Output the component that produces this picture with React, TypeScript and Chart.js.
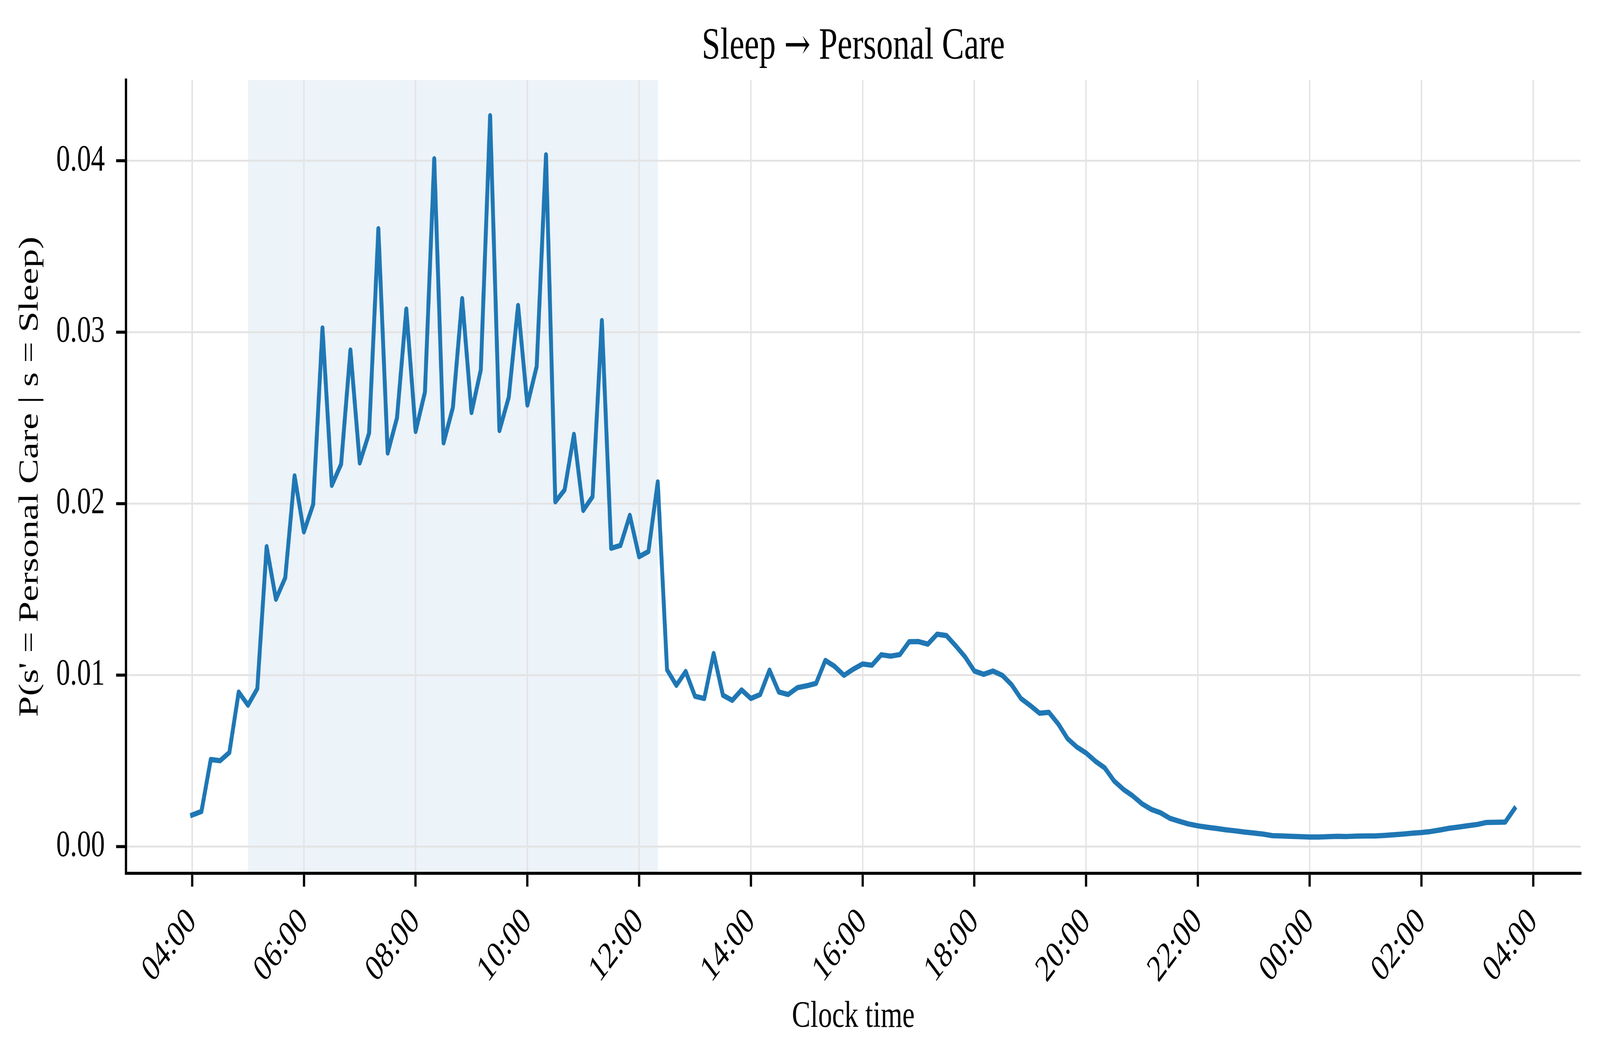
import React, { useEffect, useRef, useState } from 'react';
import { Chart, registerables } from 'chart.js';

Chart.register(...registerables);

const W = 5524;
const H = 2719;

// Minutes since 04:00, one sample every 10 minutes (04:00 .. 03:40)
const START_MIN = 0;
const STEP_MIN = 10;

const values: number[] = [
  0.00183, 0.00204, 0.00507, 0.00500, 0.00548, 0.00900, 0.00824, 0.00920, 0.01748, 0.01442,
  0.01567, 0.02161, 0.01835, 0.01995, 0.03024, 0.02106, 0.02230, 0.02895, 0.02237, 0.02410,
  0.03603, 0.02295, 0.02500, 0.03134, 0.02421, 0.02650, 0.04011, 0.02354, 0.02560, 0.03195,
  0.02531, 0.02780, 0.04262, 0.02426, 0.02620, 0.03155, 0.02575, 0.02800, 0.04034, 0.02010,
  0.02080, 0.02403, 0.01960, 0.02040, 0.03067, 0.01739, 0.01756, 0.01931, 0.01690, 0.01720,
  0.02126, 0.01030, 0.00940, 0.01020, 0.00876, 0.00863, 0.01125, 0.00882, 0.00852, 0.00913,
  0.00863, 0.00886, 0.01028, 0.00901, 0.00886, 0.00926, 0.00937, 0.00951, 0.01085, 0.01050,
  0.00998, 0.01034, 0.01064, 0.01057, 0.01118, 0.01110, 0.01119, 0.01194, 0.01195, 0.01180,
  0.01238, 0.01230, 0.01170, 0.01106, 0.01023, 0.01004, 0.01023, 0.00998, 0.00943, 0.00863,
  0.00822, 0.00777, 0.00782, 0.00715, 0.00629, 0.00580, 0.00545, 0.00497, 0.00458, 0.00382,
  0.00333, 0.00295, 0.00249, 0.00216, 0.00196, 0.00164, 0.00147, 0.00131, 0.00120, 0.00112,
  0.00105, 0.00097, 0.00091, 0.00084, 0.00078, 0.00072, 0.00063, 0.00061, 0.00059, 0.00057,
  0.00055, 0.00055, 0.00057, 0.00059, 0.00058, 0.00060, 0.00061, 0.00061, 0.00064, 0.00068,
  0.00072, 0.00077, 0.00081, 0.00087, 0.00096, 0.00106, 0.00113, 0.00121, 0.00128, 0.00140,
  0.00141, 0.00142, 0.00220,
];

const xTickValues: number[] = [0, 120, 240, 360, 480, 600, 720, 840, 960, 1080, 1200, 1320, 1440];
const xTickLabels: string[] = [
  '04:00', '06:00', '08:00', '10:00', '12:00', '14:00', '16:00',
  '18:00', '20:00', '22:00', '00:00', '02:00', '04:00',
];
const yTickValues: number[] = [0, 0.01, 0.02, 0.03, 0.04];

const X_MIN = -71;
const X_MAX = 1491;
const Y_MIN = -0.00157;
const Y_MAX = 0.0447;

// Highlighted window: 05:00 .. 12:20 (minutes since 04:00)
const shadeStart = 60;
const shadeEnd = 500;

// Title pieces: source state, arrow, target state
const TITLE_FROM = 'Sleep';
const TITLE_ARROW = '→';
const TITLE_TO = 'Personal Care';
const X_LABEL = 'Clock time';
const Y_LABEL = "P(s' = Personal Care | s = Sleep)";

const FONT = "'Liberation Serif', 'Times New Roman', Times, 'DejaVu Serif', serif";
const ARROW_FONT = "'DejaVu Serif', 'Liberation Serif', serif";
const LINE_COLOR = '#1f77b4';
const GRID_COLOR = '#e4e4e4';

const shadePlugin = {
  id: 'shadeWindow',
  beforeDraw(chart: any) {
    const { ctx, chartArea, scales } = chart;
    const xs = scales.x;
    const x0 = xs.getPixelForValue(shadeStart);
    const x1 = xs.getPixelForValue(shadeEnd);
    ctx.save();
    ctx.fillStyle = 'rgba(31,119,180,0.085)';
    ctx.fillRect(x0, chartArea.top, x1 - x0, chartArea.bottom - chartArea.top);
    ctx.restore();
  },
};

const titlePlugin = {
  id: 'axesTitle',
  afterDraw(chart: any) {
    const { ctx, chartArea } = chart;
    const size = 115;
    const main = `${size}px ${FONT}`;
    const arrow = `${size * 0.95}px ${ARROW_FONT}`;
    const parts = [
      { t: TITLE_FROM + ' ', f: main },
      { t: TITLE_ARROW, f: arrow },
      { t: ' ' + TITLE_TO, f: main },
    ];
    ctx.save();
    ctx.fillStyle = '#000';
    ctx.textBaseline = 'alphabetic';
    ctx.textAlign = 'left';
    let total = 0;
    const widths = parts.map((p) => {
      ctx.font = p.f;
      const w = ctx.measureText(p.t).width;
      total += w;
      return w;
    });
    const cx = (chartArea.left + chartArea.right) / 2;
    let x = cx - total / 2;
    const baseline = chartArea.top - 55;
    parts.forEach((p, i) => {
      ctx.font = p.f;
      ctx.fillText(p.t, x, baseline);
      x += widths[i];
    });
    ctx.restore();
  },
};

function viewportScale() {
  const vw = window.innerWidth || W;
  const vh = window.innerHeight || H;
  return { sx: vw / W, sy: vh / H };
}

export default function App() {
  const ref = useRef<HTMLCanvasElement>(null);
  const [scale, setScale] = useState(viewportScale());

  useEffect(() => {
    document.body.style.margin = '0';
    document.body.style.overflow = 'hidden';
    document.documentElement.style.overflow = 'hidden';
    setScale(viewportScale());
    const canvas = ref.current;
    if (!canvas) return;

    const points = values.map((v, i) => ({ x: START_MIN + i * STEP_MIN, y: v }));

    const chart = new Chart(canvas, {
      type: 'line',
      data: {
        datasets: [
          {
            data: points,
            borderColor: LINE_COLOR,
            backgroundColor: LINE_COLOR,
            borderWidth: 13.5,
            pointRadius: 0,
            pointHoverRadius: 0,
            tension: 0,
            fill: false,
            borderJoinStyle: 'round',
            borderCapStyle: 'square',
          },
        ],
      },
      options: {
        animation: false,
        responsive: false,
        devicePixelRatio: 1,
        events: [],
        layout: { padding: { top: 205, left: 0, right: 67, bottom: 0 } },
        plugins: {
          legend: { display: false },
          tooltip: { enabled: false },
          title: { display: false },
        },
        scales: {
          x: {
            type: 'linear',
            min: X_MIN,
            max: X_MAX,
            afterBuildTicks: (s: any) => {
              s.ticks = xTickValues.map((v) => ({ value: v }));
            },
            afterFit: (s: any) => {
              s.height = H - 2236;
            },
            ticks: {
              autoSkip: false,
              minRotation: 45,
              maxRotation: 45,
              padding: 34,
              color: '#000',
              font: { family: FONT, size: 96 },
              callback: (value: any) => {
                const idx = xTickValues.indexOf(Number(value));
                return idx >= 0 ? xTickLabels[idx] : '';
              },
            },
            grid: {
              color: GRID_COLOR,
              lineWidth: 5,
              drawTicks: true,
              tickLength: 34,
              tickColor: '#000',
              tickWidth: 7.8,
            },
            border: { display: true, color: '#000', width: 7.8 },
            title: {
              display: true,
              text: X_LABEL,
              color: '#000',
              font: { family: FONT, size: 96 },
              padding: { top: 0, bottom: 58 },
            },
          },
          y: {
            type: 'linear',
            min: Y_MIN,
            max: Y_MAX,
            afterBuildTicks: (s: any) => {
              s.ticks = yTickValues.map((v) => ({ value: v }));
            },
            afterFit: (s: any) => {
              s.width = 435;
            },
            ticks: {
              padding: 39,
              color: '#000',
              font: { family: FONT, size: 96 },
              callback: (value: any) => Number(value).toFixed(2),
            },
            grid: {
              color: GRID_COLOR,
              lineWidth: 5,
              drawTicks: true,
              tickLength: 34,
              tickColor: '#000',
              tickWidth: 7.8,
            },
            border: { display: true, color: '#000', width: 7.8 },
            title: {
              display: true,
              text: Y_LABEL,
              color: '#000',
              font: { family: FONT, size: 96 },
              padding: { top: 47, bottom: 0 },
            },
          },
        },
      },
      plugins: [shadePlugin, titlePlugin],
    } as any);

    return () => chart.destroy();
  }, []);

  return (
    <div style={{ width: '100vw', height: '100vh', overflow: 'hidden', position: 'relative' }}>
      <div
        style={{
          width: W,
          height: H,
          transform: `scale(${scale.sx}, ${scale.sy})`,
          transformOrigin: '0 0',
        }}
      >
        <canvas ref={ref} width={W} height={H} style={{ display: 'block', width: W, height: H }} />
      </div>
    </div>
  );
}
